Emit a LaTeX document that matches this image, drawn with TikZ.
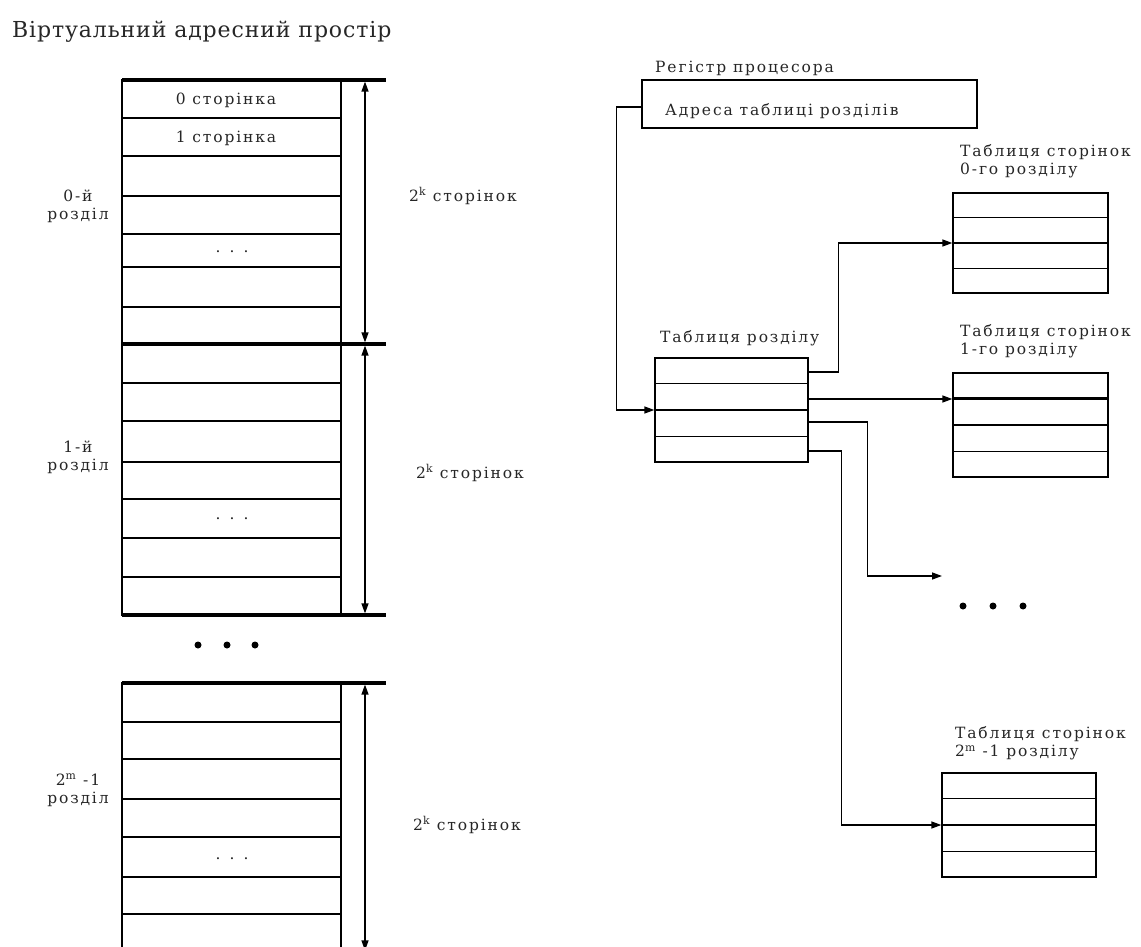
\documentclass[tikz,border=0pt]{standalone}
\usepackage{fontspec}
\setmainfont{DejaVu Serif}
\newfontfamily\lblfont[LetterSpace=12]{DejaVu Serif}
\newfontfamily\titlefont[LetterSpace=4]{DejaVu Serif}
\usetikzlibrary{arrows.meta,calc}

\begin{document}
\begin{tikzpicture}[x=1pt,y=-1pt,
  thinline/.style={line width=1.3pt},
  bar/.style={line width=3.6pt},
  tip/.style={-{Triangle[length=10pt,width=7pt]}},
  dim/.style={{Triangle[length=10pt,width=7pt]}-{Triangle[length=10pt,width=7pt]},
              line width=1.3pt, shorten <=1.6pt, shorten >=1.6pt},
  conn/.style={thinline, tip},
  tbl/.style={draw, thinline, inner sep=0pt, minimum width=#1},
  txt/.style={font=\lblfont\fontsize{15.5}{18}\selectfont, text=black!85, inner sep=0pt},
  bigtxt/.style={font=\titlefont\fontsize{22}{26}\selectfont, text=black!85, inner sep=0pt},
  dot/.style={fill=black, draw=none, circle, minimum size=7pt, inner sep=0pt}
]
\useasboundingbox (0,0) rectangle (1141,947);
\clip (0,0) rectangle (1141,947);

% ---------- virtual address space ----------
\node[bigtxt, anchor=base west] (title) at (12,38) {Віртуальний адресний простір};

% section 0
\draw[thinline] (122,80) rectangle (341,344);
\foreach \y in {118,156,196,234,267,307} \draw[thinline] (122,\y) -- (341,\y);
\draw[bar] (122,80) -- (386,80);
\draw[bar] (122,344) -- (386,344);
\coordinate (s0top) at (365,80);
\coordinate (s0bot) at (365,344);
\draw[dim] (s0top) -- (s0bot);
\node[txt] (p0) at (226,100) {0 сторінка};
\node[txt] (p1) at (226,138) {1 сторінка};
\node[txt] (d0) at (232,252) {. . .};
\node[txt, align=center] (r0) at (78,206) {0-й\\розділ};
\node[txt] (n0) at (463,196) {2\textsuperscript{k} сторінок};

% section 1
\draw[thinline] (122,344) rectangle (341,615);
\foreach \y in {383,421,462,499,538,577} \draw[thinline] (122,\y) -- (341,\y);
\draw[bar] (122,615) -- (386,615);
\coordinate (s1top) at (365,344);
\coordinate (s1bot) at (365,615);
\draw[dim] (s1top) -- (s1bot);
\node[txt] (d1) at (232,519) {. . .};
\node[txt, align=center] (r1) at (78,457) {1-й\\розділ};
\node[txt] (n1) at (470,473) {2\textsuperscript{k} сторінок};

% dots between sections
\node[dot] (g1) at (198,645) {};
\node[dot] (g2) at (227,645) {};
\node[dot] (g3) at (255,645) {};

% last section
\draw[thinline] (122,683) rectangle (341,990);
\foreach \y in {722,759,799,837,877,914,952} \draw[thinline] (122,\y) -- (341,\y);
\draw[bar] (122,683) -- (386,683);
\coordinate (s2top) at (365,683);
\coordinate (s2bot) at (365,952);
\draw[dim] (s2top) -- (s2bot);
\node[txt] (d2) at (232,859) {. . .};
\node[txt, align=center] (r2) at (78,790) {2\textsuperscript{m} -1\\розділ};
\node[txt] (n2) at (467,825) {2\textsuperscript{k} сторінок};

% ---------- address translation structures ----------
\node[draw, thinline, inner sep=0pt, minimum width=335pt, minimum height=48pt] (reg) at (809.5,104) {};
\node[txt, anchor=west] (regname) at (655,68) {Регістр процесора};
\node[txt, anchor=west] (regval) at (665,111) {Адреса таблиці розділів};

% section table
\node[tbl=153pt, minimum height=104pt] (st) at (731.5,410) {};
\foreach \f in {1,2,3}
  \draw[thinline] ($(st.north west)!\f/4!(st.south west)$) -- ($(st.north east)!\f/4!(st.south east)$);
\node[txt, anchor=west] (stname) at (660,338) {Таблиця розділу};

% page table of section 0
\node[tbl=155pt, minimum height=100pt] (t0) at (1030.5,243) {};
\foreach \f in {1,2,3}
  \draw[thinline] ($(t0.north west)!\f/4!(t0.south west)$) -- ($(t0.north east)!\f/4!(t0.south east)$);
\node[txt, anchor=west, align=left] (t0name) at (960,161) {Таблиця сторінок\\0-го розділу};

% page table of section 1
\node[tbl=155pt, minimum height=104pt] (t1) at (1030.5,425) {};
\draw[line width=2.6pt] ($(t1.north west)!0.25!(t1.south west)$) -- ($(t1.north east)!0.25!(t1.south east)$);
\foreach \f in {2,3}
  \draw[thinline] ($(t1.north west)!\f/4!(t1.south west)$) -- ($(t1.north east)!\f/4!(t1.south east)$);
\node[txt, anchor=west, align=left] (t1name) at (960,341) {Таблиця сторінок\\1-го розділу};

% page table of the last section
\node[tbl=154pt, minimum height=104pt] (t2) at (1019,825) {};
\foreach \f in {1,2,3}
  \draw[thinline] ($(t2.north west)!\f/4!(t2.south west)$) -- ($(t2.north east)!\f/4!(t2.south east)$);
\node[txt, anchor=west, align=left] (t2name) at (955,743) {Таблиця сторінок\\2\textsuperscript{m} -1 розділу};

% further page tables
\coordinate (more) at (942,576);
\node[dot] (m1) at (963,606) {};
\node[dot] (m2) at (993,606) {};
\node[dot] (m3) at (1023,606) {};

% connectors
\draw[conn] ([yshift=-3pt]reg.west) -- ++(-25,0) |- (st.west);
\draw[conn] ([yshift=38pt]st.east) -- ++(30,0) |- (t0.west);
\draw[conn] ([yshift=11pt]st.east) -- ([yshift=26pt]t1.west);
\draw[conn] ([yshift=-12pt]st.east) -- ++(59,0) |- (more);
\draw[conn] ([yshift=-41pt]st.east) -- ++(33,0) |- (t2.west);
\end{tikzpicture}
\end{document}
